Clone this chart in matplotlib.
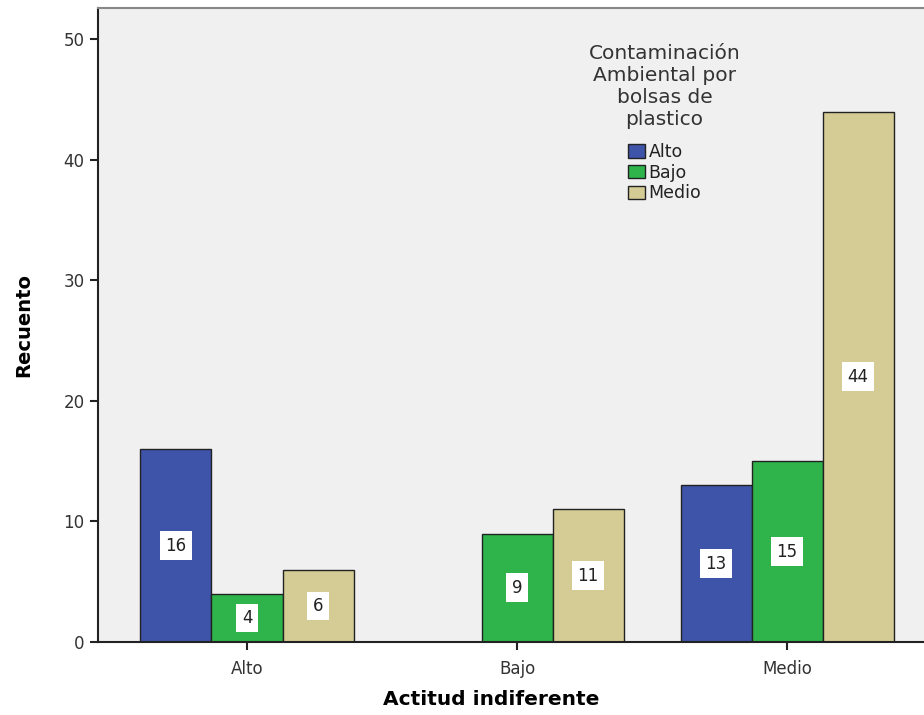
import numpy as np
import matplotlib
matplotlib.use("Agg")
import matplotlib.pyplot as plt
from matplotlib.patches import Patch

categorias = ["Alto", "Bajo", "Medio"]
serie_alto = [16, 0, 13]
serie_bajo = [4, 9, 15]
serie_medio = [6, 11, 44]
series = ["Alto", "Bajo", "Medio"]
colores = ["#3E54A8", "#2EB44A", "#D4CC94"]

fig = plt.figure(figsize=(9.24, 7.15), dpi=100)
ax = fig.add_axes([0.106, 0.102, 0.894, 0.887])
ax.set_facecolor("#F0F0F0")

xs = np.arange(len(categorias))
w = 0.263
for j, (vals, col) in enumerate(zip([serie_alto, serie_bajo, serie_medio], colores)):
    for xi, v in zip(xs, vals):
        if v == 0:
            continue
        xc = xi + (j - 1) * w
        ax.bar(xc, v, width=w, color=col, edgecolor="#222222", linewidth=1.0)
        ax.text(xc, v / 2, str(v), ha="center", va="center", fontsize=12,
                color="#222222",
                bbox=dict(boxstyle="square,pad=0.32", fc="white", ec="none"))

ax.set_xlim(-0.552, 2.507)
ax.set_ylim(0, 52.6)
ax.set_yticks([0, 10, 20, 30, 40, 50])
ax.set_xticks(xs)
ax.set_xticklabels(categorias)
ax.tick_params(axis="both", labelsize=12, length=6, width=1.5, color="#222222",
               labelcolor="#333333")
ax.tick_params(axis="x", pad=7)
ax.spines["right"].set_visible(False)
ax.spines["top"].set_color("#888888")
ax.spines["top"].set_linewidth(1.5)
ax.spines["left"].set_linewidth(1.5)
ax.spines["bottom"].set_linewidth(1.5)
ax.spines["left"].set_color("#222222")
ax.spines["bottom"].set_color("#222222")

ax.set_ylabel("Recuento", fontsize=14, fontweight="bold")
ax.yaxis.set_label_coords(-0.078, 0.5)
ax.set_xlabel("Actitud indiferente", fontsize=14.5, fontweight="bold")
ax.xaxis.set_label_coords(0.476, -0.075)

handles = [Patch(facecolor=c, edgecolor="#222222", label=s) for s, c in zip(series, colores)]
leg = ax.legend(handles=handles,
                title="Contaminación\nAmbiental por\nbolsas de\nplastico",
                loc="upper center", bbox_to_anchor=(0.686, 0.962), frameon=False,
                fontsize=12.5, title_fontsize=14.5, handlelength=1.0, handleheight=0.8,
                handletextpad=0.2, labelspacing=0.15, borderpad=0.2)
leg.get_title().set_multialignment("center")
leg.get_title().set_color("#333333")
leg._legend_box.sep = 10
for t in leg.get_texts():
    t.set_color("#222222")

fig.savefig("out.png", dpi=100)
